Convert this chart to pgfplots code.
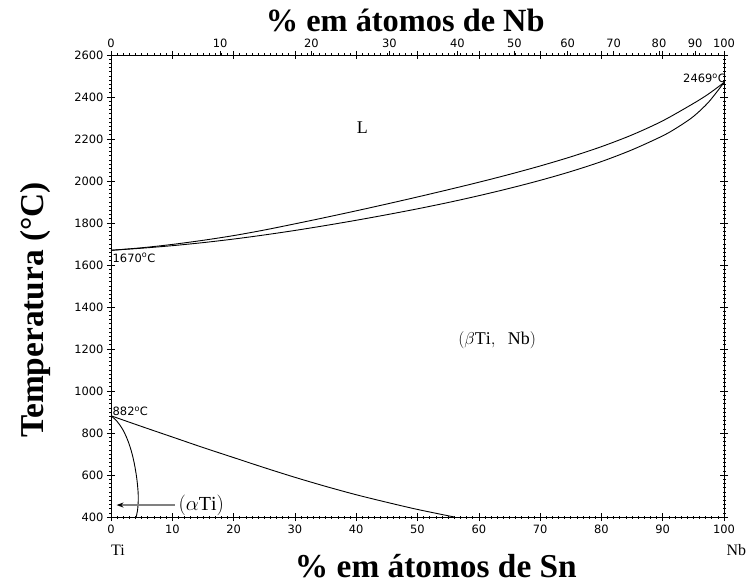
\documentclass[border=0pt]{standalone}
\usepackage{pgfplots}
\pgfplotsset{compat=1.18}
\usepackage{fontspec}
\setmainfont{Liberation Serif}
\newfontfamily\tickfont{DejaVu Sans}
\usetikzlibrary{arrows.meta}
\begin{document}
\begin{tikzpicture}[x=1bp,y=1bp]
\begin{axis}[name=main, at={(0,0)}, anchor=south west, scale only axis,
  width=613bp, height=462bp,
  xmin=0, xmax=100, ymin=400, ymax=2600,
  xtick={0,10,...,100}, ytick={400,600,...,2600},
  minor x tick num=9, minor y tick num=9,
  tick align=center, major tick length=8bp, minor tick length=3bp,
  xticklabel pos=bottom, yticklabel pos=left,
  ticklabel style={font=\tickfont\fontsize{11.5}{13}\selectfont},
  /pgf/number format/assume math mode=true,
  /pgf/number format/set thousands separator={},
  clip=false, axis line style={line width=0.9bp},
  tick style={black, line width=0.6bp}]
% liquidus
\addplot[smooth, tension=0.5, black, line width=0.9bp, mark=none] table {
x y
0 1670
5 1682
10 1698
15 1717.5
20 1740
25 1766.5
30 1796
35 1826.5
40 1858
45 1890.5
50 1924
55 1958.5
60 1994
65 2031.5
70 2071.5
75 2115
80 2163.5
85 2219.5
90 2286.5
95 2369
97.5 2415
100 2469
};
% solidus
\addplot[smooth, tension=0.5, black, line width=0.9bp, mark=none] table {
x y
0 1670
5 1680
10 1692
15 1706.5
20 1723.5
25 1743
30 1764.5
35 1788
40 1813
45 1839.5
50 1867.5
55 1897.5
60 1930
65 1965
70 2003
75 2045
80 2092.5
85 2148.5
90 2215
92.5 2257
95 2307
97.5 2376
100 2469
};
% beta transus
\addplot[smooth, tension=0.5, black, line width=0.9bp, mark=none] table {
x y
0 882
5 831
10 781
15 731
20 683
25 635
30 589
35 546
40 506
45 470
50 436
56 400
};
% alpha transus
\addplot[smooth, tension=0.6, black, line width=0.9bp, mark=none] table {
x y
0 882
1.0 855
2.0 812
2.9 752
3.6 682
4.1 605
4.38 535
4.45 480
4.32 430
4.1 400
};
% arrow to alpha field
\addplot[gray, line width=1.2bp, mark=none, -{Stealth[black,length=7bp,width=5bp]}] coordinates {(10.4,457) (0.9,457)};
\node[anchor=west, inner sep=0pt, font=\fontsize{20}{22}\selectfont] at (axis cs:11.0,457) {$(\alpha\mathrm{Ti})$};
\node[font=\fontsize{18}{20}\selectfont] at (axis cs:63,1243) {$(\beta\mathrm{Ti},\;\; \mathrm{Nb})$};
\node[font=\fontsize{18}{20}\selectfont] at (axis cs:41,2252) {$\mathrm{L}$};
\node[anchor=base east, inner sep=0pt, font=\tickfont\fontsize{11.5}{13}\selectfont] at ([xshift=2bp]axis cs:100,2469) {2469\textsuperscript{o}C};
\node[anchor=north west, inner sep=0pt, font=\tickfont\fontsize{11.5}{13}\selectfont] at ([xshift=1.5bp,yshift=-3bp]axis cs:0,1670) {1670\textsuperscript{o}C};
\node[anchor=base west, inner sep=0pt, font=\tickfont\fontsize{11.5}{13}\selectfont] at ([xshift=1.5bp]axis cs:0,882) {882\textsuperscript{o}C};
\node[anchor=base west, inner sep=0pt, font=\fontsize{16}{18}\selectfont] at (rel axis cs:0,-0.0823) {Ti};
\node[anchor=base west, inner sep=0pt, font=\fontsize{16}{18}\selectfont] at (rel axis cs:1.004,-0.0823) {Nb};
\node[anchor=base, inner sep=0pt, font=\bfseries\fontsize{33.5}{36}\selectfont] at (rel axis cs:0.530,-0.130) {\% em átomos de Sn};
\node[anchor=base, inner sep=0pt, font=\bfseries\fontsize{32.5}{35}\selectfont] at (rel axis cs:0.480,1.0498) {\% em átomos de Nb};
\node[anchor=base, rotate=90, inner sep=0pt, font=\bfseries\fontsize{33.5}{36}\selectfont] at (rel axis cs:-0.1093,0.448) {Temperatura (°C)};
\end{axis}
\begin{axis}[at={(main.south west)}, anchor=south west, scale only axis,
  width=613bp, height=462bp,
  xmin=0, xmax=100, ymin=400, ymax=2600,
  axis x line*=top, axis y line=none,
  xtick={0,17.8,32.7,45.4,56.5,65.8,74.5,82.0,89.4,95.3,100},
  xticklabels={0,10,20,30,40,50,60,70,80,90,100},
  minor tick num=0,
  tick align=outside, major tick length=4bp,
  ticklabel style={font=\tickfont\fontsize{11.5}{13}\selectfont},
  /pgf/number format/assume math mode=true,
  axis line style={line width=0.9bp},
  tick style={black, line width=0.6bp}]
\addplot[draw=none] coordinates {(0,400)};
\end{axis}
\pgfresetboundingbox
\path[use as bounding box] (main.south west) ++(-111bp,-67bp) rectangle ([xshift=24bp,yshift=55bp]main.north east);
\end{tikzpicture}
\end{document}
